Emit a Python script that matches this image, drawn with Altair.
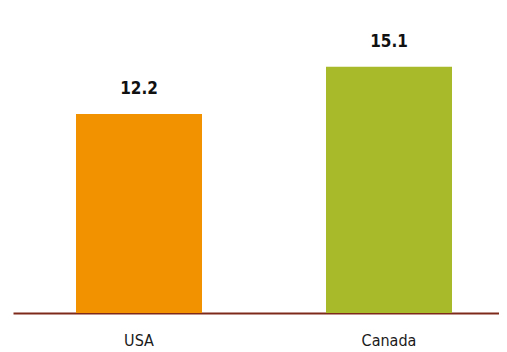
import altair as alt
import pandas as pd

countries = ["USA", "Canada"]
values = [12.2, 15.1]
colors = ["#F39200", "#A8B92A"]

df = pd.DataFrame({"country": countries, "value": values, "color": colors})

FONT = "DejaVu Sans Condensed, Roboto, sans-serif"

base = alt.Chart(df).encode(
    x=alt.X("country:N", sort=countries,
            scale=alt.Scale(range=[0, 502], paddingInner=0.496, paddingOuter=0.252),
            axis=alt.Axis(title=None, labelAngle=0, ticks=False,
                          domainColor="#7E2A1B", domainWidth=2,
                          labelFont=FONT, labelFontSize=16,
                          labelColor="#1a1a1a", labelPadding=19)),
    y=alt.Y("value:Q", scale=alt.Scale(domain=[0, 18.4], nice=False),
            axis=None),
)

bars = base.mark_bar().encode(color=alt.Color("color:N", scale=None))
labels = base.mark_text(baseline="alphabetic", dy=-20, fontSize=17, fontWeight="bold",
                        font=FONT, color="#111111").encode(
    text=alt.Text("value:Q", format=".1f"))

chart = (bars + labels).properties(
    width=486, height=300,
    autosize=alt.AutoSizeParams(type="none"),
    padding={"left": 5, "top": 5, "right": 0, "bottom": 37},
).configure_view(stroke=None)

chart.save("out.html", embed_options={"renderer": "svg", "actions": False})
